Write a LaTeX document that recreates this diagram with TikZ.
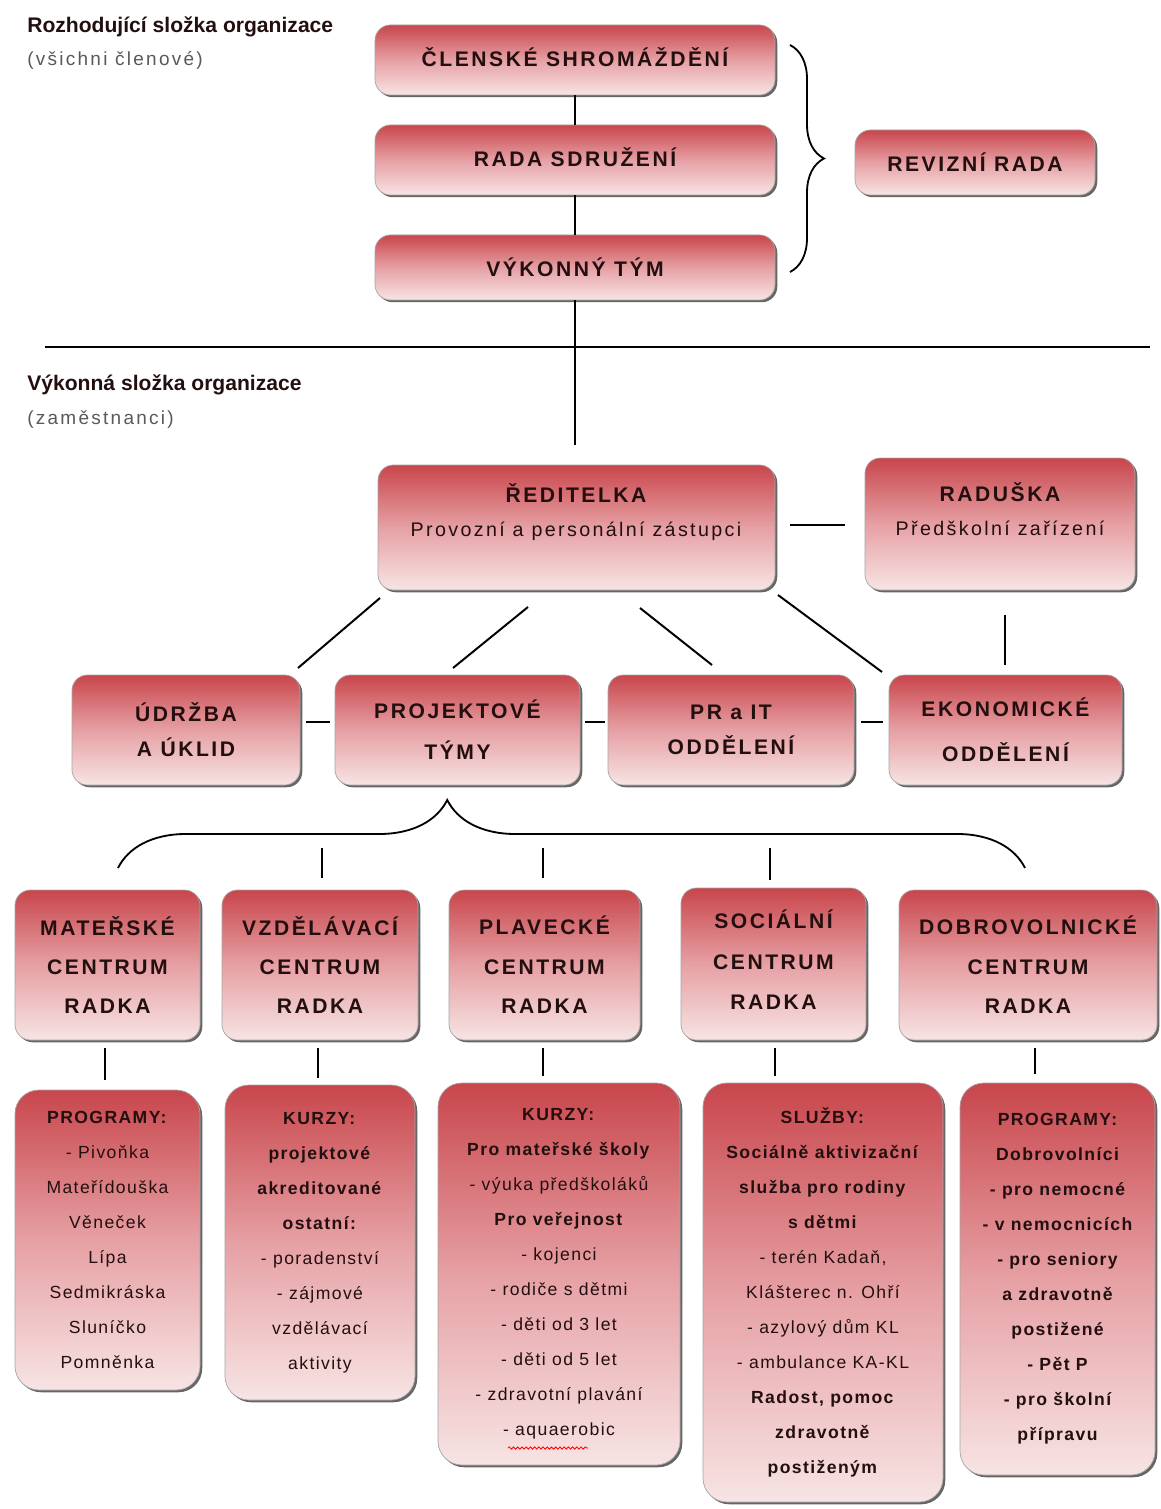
\documentclass[tikz,border=0pt]{standalone}
\usepackage{fontspec}
\setmainfont{Liberation Sans}
\newfontfamily\hfont[LetterSpace=12]{Liberation Sans}
\newfontfamily\sfont[LetterSpace=8]{Liberation Sans}
\newfontfamily\pfont[LetterSpace=12]{Liberation Sans}
\usetikzlibrary{shadows,fit,decorations.pathreplacing,decorations.pathmorphing}
\definecolor{rtop}{RGB}{200,70,76}
\definecolor{rmid}{RGB}{230,160,164}
\definecolor{rbot}{RGB}{247,228,228}
\definecolor{txt}{RGB}{35,15,15}
\tikzset{
  box/.style={rounded corners=11pt, draw=black!35, line width=0.5pt,
    top color=rtop, bottom color=rbot, middle color=rmid,
    drop shadow={shadow xshift=1.6pt, shadow yshift=-1.6pt, fill=black!80, opacity=0.75},
    inner sep=0pt},
  tallbox/.style={box, rounded corners=17pt},
  head/.style={font=\hfont\bfseries\fontsize{15}{27}\selectfont, align=center, text=txt},
  small/.style={font=\sfont\fontsize{12.5}{24.9}\selectfont, align=center, text=txt},
  conn/.style={line width=1.4pt, black},
  lbl/.style={anchor=west, inner sep=0pt, text=txt}
}
\begin{document}
\begin{tikzpicture}[x=0.025cm,y=-0.025cm]
\useasboundingbox (0,0) rectangle (1161,1509);
\fill[white] (0,0) rectangle (1161,1509);

% labels
\node[lbl, font=\bfseries\fontsize{15}{18}\selectfont] (l1) at (27,27) {Rozhodující složka organizace};
\node[lbl, font=\pfont\fontsize{13.5}{16}\selectfont, text=black!65] (l2) at (27,60) {(všichni členové)};
\node[lbl, font=\bfseries\fontsize{15}{18}\selectfont] (l3) at (27,385) {Výkonná složka organizace};
\node[lbl, font=\pfont\fontsize{13.5}{16}\selectfont, text=black!65] (l4) at (27,420) {(zaměstnanci)};

% divider
\coordinate (dl) at (45,347);
\coordinate (dr) at (1150,347);
\draw[line width=1.1pt] (dl) -- (dr);

% top boxes
\node[box, fit={(375,25)(775,95)}] (csh) {};
\node[head] at ([yshift=2pt]csh.center) {ČLENSKÉ SHROMÁŽDĚNÍ};
\node[box, fit={(375,125)(775,195)}] (rs) {};
\node[head] at ([yshift=2pt]rs.center) {RADA SDRUŽENÍ};
\node[box, fit={(375,235)(775,300)}] (vt) {};
\node[head] at (vt) {VÝKONNÝ TÝM};
\node[box, fit={(855,130)(1095,195)}] (rr) {};
\node[head] at (rr) {REVIZNÍ RADA};

\coordinate (bt) at (790,45);
\coordinate (bb) at (790,272);
\draw[line width=1.3pt, decorate, decoration={brace, amplitude=0.85cm}] (bt) -- (bb);

\draw[conn] (csh.south) -- (rs.north);
\draw[conn] (rs.south) -- (vt.north);
\coordinate (vtend) at (575,445);
\draw[conn] (vt.south) -- (vtend);

% second level
\node[box, fit={(378,465)(775,590)}] (red) {};
\node[head, font=\hfont\bfseries\fontsize{15}{25}\selectfont] (redt) at (576,512) {ŘEDITELKA\\[-1pt]{\pfont\mdseries\fontsize{14}{16}\selectfont Provozní a personální zástupci}};
\node[box, fit={(865,458)(1135,590)}] (rad) {};
\node[head, font=\hfont\bfseries\fontsize{15}{25}\selectfont] (radt) at (1000,509) {RADUŠKA\\[-1pt]{\pfont\mdseries\fontsize{14}{16}\selectfont Předškolní zařízení}};
\coordinate (rl1) at (790,525);
\coordinate (rl2) at (845,525);
\draw[conn] (rl1) -- (rl2);

% third level
\node[box, fit={(72,675)(300,785)}] (udr) {};
\node[head, font=\hfont\bfseries\fontsize{15}{25}\selectfont] at (udr) {ÚDRŽBA\\A ÚKLID};
\node[box, fit={(335,675)(580,785)}] (pt) {};
\node[head, font=\hfont\bfseries\fontsize{15}{29}\selectfont] at (pt) {PROJEKTOVÉ\\TÝMY};
\node[box, fit={(608,675)(854,785)}] (pr) {};
\node[head, font=\hfont\bfseries\fontsize{15}{25}\selectfont] at (pr) {PR a IT\\ODDĚLENÍ};
\node[box, fit={(889,675)(1122,785)}] (eko) {};
\node[head, font=\hfont\bfseries\fontsize{15}{32}\selectfont] at (eko) {EKONOMICKÉ\\ODDĚLENÍ};

\coordinate (c1a) at (380,598); \coordinate (c1b) at (298,668);
\coordinate (c2a) at (528,607); \coordinate (c2b) at (453,668);
\coordinate (c3a) at (640,608); \coordinate (c3b) at (712,665);
\coordinate (c4a) at (778,595); \coordinate (c4b) at (882,672);
\coordinate (c5a) at (1005,615); \coordinate (c5b) at (1005,665);
\draw[conn] (c1a) -- (c1b);
\draw[conn] (c2a) -- (c2b);
\draw[conn] (c3a) -- (c3b);
\draw[conn] (c4a) -- (c4b);
\draw[conn] (c5a) -- (c5b);
\coordinate (h1a) at (306,722); \coordinate (h1b) at (330,722);
\coordinate (h2a) at (585,722); \coordinate (h2b) at (605,722);
\coordinate (h3a) at (861,722); \coordinate (h3b) at (883,722);
\draw[conn] (h1a) -- (h1b);
\draw[conn] (h2a) -- (h2b);
\draw[conn] (h3a) -- (h3b);

% lower brace
\coordinate (lbl0) at (118,868);
\coordinate (lbr0) at (1025,868);
\draw[line width=1.3pt, decorate, decoration={brace, amplitude=1.7cm, aspect=0.363}] (lbl0) -- (lbr0);
\coordinate (v1a) at (322,848); \coordinate (v1b) at (322,878);
\coordinate (v2a) at (543,848); \coordinate (v2b) at (543,878);
\coordinate (v3a) at (770,848); \coordinate (v3b) at (770,880);
\draw[conn] (v1a) -- (v1b);
\draw[conn] (v2a) -- (v2b);
\draw[conn] (v3a) -- (v3b);

% fourth level
\node[box, fit={(15,890)(200,1040)}] (mc) {};
\node[head, font=\hfont\bfseries\fontsize{15}{28}\selectfont] at (mc) {MATEŘSKÉ\\CENTRUM\\RADKA};
\node[box, fit={(222,890)(418,1040)}] (vc) {};
\node[head, font=\hfont\bfseries\fontsize{15}{28}\selectfont] at (vc) {VZDĚLÁVACÍ\\CENTRUM\\RADKA};
\node[box, fit={(449,890)(640,1040)}] (plc) {};
\node[head, font=\hfont\bfseries\fontsize{15}{28}\selectfont] at (plc) {PLAVECKÉ\\CENTRUM\\RADKA};
\node[box, fit={(681,888)(866,1040)}] (sc) {};
\node[head, font=\hfont\bfseries\fontsize{15}{29}\selectfont] at ([yshift=3pt]sc.center) {SOCIÁLNÍ\\CENTRUM\\RADKA};
\node[box, fit={(899,890)(1157,1040)}] (dc) {};
\node[head, font=\hfont\bfseries\fontsize{15}{28}\selectfont] at (dc) {DOBROVOLNICKÉ\\CENTRUM\\RADKA};

% fifth level
\node[tallbox, fit={(15,1090)(200,1390)}] (p1) {};
\node[small] at (p1) {\textbf{PROGRAMY:}\\- Pivoňka\\Mateřídouška\\Věneček\\Lípa\\Sedmikráska\\Sluníčko\\Pomněnka};
\node[tallbox, fit={(225,1085)(415,1400)}] (p2) {};
\node[small] at (p2) {\textbf{KURZY:}\\\textbf{projektové}\\\textbf{akreditované}\\\textbf{ostatní:}\\- poradenství\\- zájmové\\vzdělávací\\aktivity};
\node[tallbox, fit={(438,1083)(680,1465)}] (p3) {};
\node[small] at (p3) {\textbf{KURZY:}\\\textbf{Pro mateřské školy}\\- výuka předškoláků\\\textbf{Pro veřejnost}\\- kojenci\\- rodiče s dětmi\\- děti od 3 let\\- děti od 5 let\\- zdravotní plavání\\- aquaerobic};
\coordinate (sq1) at (508,1448); \coordinate (sq2) at (588,1448);
\draw[red, line width=0.6pt, decorate, decoration={snake, amplitude=0.8pt, segment length=3pt}] (sq1) -- (sq2);
\node[tallbox, fit={(703,1083)(943,1502)}] (p4) {};
\node[small] at (p4) {\textbf{SLUŽBY:}\\\textbf{Sociálně aktivizační}\\\textbf{služba pro rodiny}\\\textbf{s dětmi}\\- terén Kadaň,\\Klášterec n. Ohří\\- azylový dům KL\\- ambulance KA-KL\\\textbf{Radost, pomoc}\\\textbf{zdravotně}\\\textbf{postiženým}};
\node[tallbox, fit={(960,1083)(1155,1475)}] (p5) {};
\node[small, font=\sfont\bfseries\fontsize{12.5}{24.9}\selectfont] at (p5) {PROGRAMY:\\Dobrovolníci\\- pro nemocné\\- v nemocnicích\\- pro seniory\\a zdravotně\\postižené\\- Pět P\\- pro školní\\přípravu};

\coordinate (w1a) at (105,1048); \coordinate (w1b) at (105,1080);
\coordinate (w2a) at (318,1048); \coordinate (w2b) at (318,1078);
\coordinate (w3a) at (543,1048); \coordinate (w3b) at (543,1076);
\coordinate (w4a) at (775,1048); \coordinate (w4b) at (775,1076);
\coordinate (w5a) at (1035,1048); \coordinate (w5b) at (1035,1074);
\draw[conn] (w1a) -- (w1b);
\draw[conn] (w2a) -- (w2b);
\draw[conn] (w3a) -- (w3b);
\draw[conn] (w4a) -- (w4b);
\draw[conn] (w5a) -- (w5b);
\end{tikzpicture}
\end{document}
